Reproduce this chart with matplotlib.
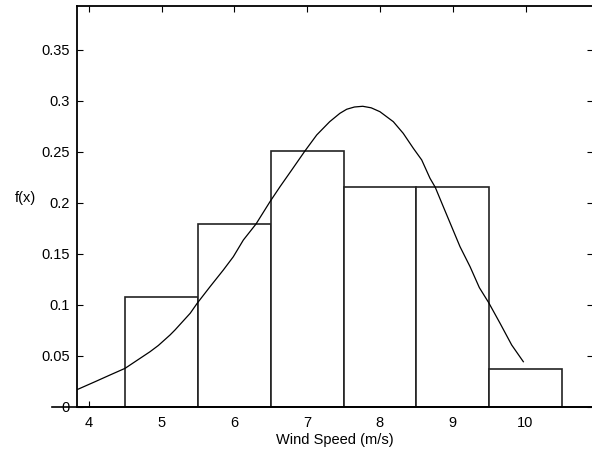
import matplotlib
matplotlib.use("Agg")
import matplotlib.pyplot as plt

# Histogram data
bin_centers = [5, 6, 7, 8, 9, 10]
bin_heights = [0.108, 0.179, 0.2505, 0.215, 0.215, 0.0367]

# Fitted density curve
curve_x = [3.839, 4.087, 4.293, 4.499, 4.842, 4.956, 5.117, 5.185, 5.394, 5.49,
           5.666, 5.849, 5.986, 6.124, 6.298, 6.49, 6.628, 6.788, 6.97,
           7.132, 7.31, 7.45, 7.544, 7.65, 7.764, 7.88, 8.0, 8.184, 8.32,
           8.459, 8.574, 8.688, 8.76, 8.871, 9.10, 9.238, 9.366, 9.494, 9.65, 9.81, 9.97]
curve_y = [0.0167, 0.0245, 0.0311, 0.0376, 0.0539, 0.0600, 0.0703, 0.0752, 0.0916, 0.1014,
           0.1176, 0.134, 0.147, 0.1634, 0.1791, 0.201, 0.2157, 0.232, 0.2507,
           0.2664, 0.2794, 0.2876, 0.2916, 0.2938, 0.2945, 0.2930, 0.2892, 0.2794, 0.268,
           0.2533, 0.2419, 0.2239, 0.2151, 0.196, 0.1569, 0.1373, 0.1167, 0.102, 0.0818, 0.0605, 0.0441]

xticks = [4, 5, 6, 7, 8, 9, 10]
yticks = [0, 0.05, 0.1, 0.15, 0.2, 0.25, 0.3, 0.35]
ytick_labels = ["0", "0.05", "0.1", "0.15", "0.2", "0.25", "0.3", "0.35"]

plt.rcParams['font.family'] = ['Liberation Sans', 'DejaVu Sans']
plt.rcParams['font.size'] = 10.5

fig = plt.figure(figsize=(5.92, 4.51), dpi=100)
ax = fig.add_axes([77/592, 1 - 406.7/451, (593 - 77)/592, (406.7 - 5.5)/451])

ax.bar(bin_centers, bin_heights, width=1.0, facecolor='white', edgecolor='#222222',
       linewidth=1.2, zorder=2)
ax.plot(curve_x, curve_y, color='black', linewidth=0.9, zorder=3)
ax.plot([3.496, 10.95], [0, 0], color='black', linewidth=1.2, clip_on=False, zorder=4)

ax.set_xlim(3.839, 3.839 + (593 - 77) / 72.8)
ax.set_ylim(0, 0.3933)
ax.set_xticks(xticks)
ax.set_yticks(yticks)
ax.set_yticklabels(ytick_labels)
ax.tick_params(direction='in', length=4, width=0.8, top=True, right=True, colors='black')
ax.tick_params(axis='y', pad=5)
ax.tick_params(axis='x', pad=6.5)
for s in ax.spines.values():
    s.set_linewidth(1.3)

ax.set_xlabel("Wind Speed (m/s)", labelpad=2.5)
fig.text(25/592, 1 - 197.5/451, "f(x)", ha='center', va='center', fontsize=10.5)

fig.savefig("out.png", dpi=100)
